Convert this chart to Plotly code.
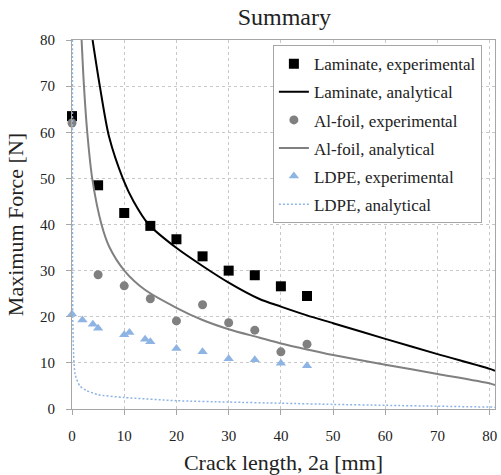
import plotly.graph_objects as go

# ---- data ----
lam_exp_x = [0, 5, 10, 15, 20, 25, 30, 35, 40, 45]
lam_exp_y = [63.5, 48.5, 42.5, 39.7, 36.8, 33.1, 30.0, 29.0, 26.6, 24.5]

al_exp_x = [0, 5, 10, 15, 20, 25, 30, 35, 40, 45]
al_exp_y = [62.0, 29.1, 26.7, 23.9, 19.1, 22.6, 18.7, 17.1, 12.4, 14.05]

ldpe_exp_x = [0, 2, 4, 5, 10, 11, 14, 15, 20, 25, 30, 35, 40, 45]
ldpe_exp_y = [20.6, 19.3, 18.4, 17.5, 16.1, 16.6, 15.1, 14.6, 13.1, 12.4, 10.9, 10.7, 9.9, 9.4]

lam_ana_x = [3.94, 5.33, 7.1, 9.8, 11.8, 14.7, 19.9, 25.0, 30.0, 35.8, 40, 45, 50, 60, 70, 80, 81]
lam_ana_y = [80, 70, 59, 49.8, 45.0, 40, 35.0, 31.0, 27.4, 23.9, 22.2, 20.3, 18.6, 15.2, 11.9, 8.7, 8.3]

al_ana_x = [1.84, 2.29, 2.92, 3.87, 5.65, 7.2, 10.1, 13.9, 19.9, 25, 30, 35.8, 40, 45, 50, 60, 70, 80, 81]
al_ana_y = [80, 70, 60, 50, 40, 35, 29.9, 25.9, 22.0, 19.3, 17.3, 15.5, 14.2, 12.9, 11.7, 9.6, 7.6, 5.55, 5.2]

ldpe_ana_x = [0.08, 0.1, 0.15, 0.3, 0.6, 1.5, 2.8, 5, 10, 20, 30, 40, 50, 60, 70, 81]
ldpe_ana_y = [80, 35, 20, 12, 7.5, 5.0, 4.0, 3.1, 2.5, 1.8, 1.5, 1.25, 1.0, 0.8, 0.6, 0.4]

x_ticks = [0, 10, 20, 30, 40, 50, 60, 70, 80]
y_ticks = [0, 10, 20, 30, 40, 50, 60, 70, 80]

FONT = "Liberation Serif, 'Times New Roman', DejaVu Serif, serif"
BLUE = "#8db4e2"
GREY = "#808080"
TXT = "#222222"

fig = go.Figure()
fig.add_trace(go.Scatter(x=lam_exp_x, y=lam_exp_y, mode="markers", name="Laminate, experimental",
                         legendgroup="a",
                         marker=dict(symbol="square", size=10, color="black"), cliponaxis=False))
fig.add_trace(go.Scatter(x=lam_ana_x, y=lam_ana_y, mode="lines", name="Laminate, analytical",
                         legendgroup="b",
                         line=dict(color="black", width=2, shape="spline", smoothing=0.8)))
fig.add_trace(go.Scatter(x=al_exp_x, y=al_exp_y, mode="markers", name="Al-foil, experimental",
                         legendgroup="c",
                         marker=dict(symbol="circle", size=9, color=GREY), cliponaxis=False))
fig.add_trace(go.Scatter(x=al_ana_x, y=al_ana_y, mode="lines", name="Al-foil, analytical",
                         legendgroup="d",
                         line=dict(color=GREY, width=2, shape="spline", smoothing=0.8)))
fig.add_trace(go.Scatter(x=ldpe_exp_x, y=ldpe_exp_y, mode="markers", name="LDPE, experimental",
                         legendgroup="e",
                         marker=dict(symbol="triangle-up", size=9, color=BLUE), cliponaxis=False))
fig.add_trace(go.Scatter(x=ldpe_ana_x, y=ldpe_ana_y, mode="lines", name="LDPE, analytical",
                         legendgroup="f",
                         line=dict(color=BLUE, width=1.5, dash="2px,2px", shape="spline", smoothing=0.6)))

axis_common = dict(
    showline=True, linecolor="#a6a6a6", linewidth=1, mirror=True,
    showgrid=True, gridcolor="#c8c8c8", griddash="dot", gridwidth=1,
    zeroline=False, ticks="outside", ticklen=5, tickcolor="#a6a6a6",
    tickfont=dict(family=FONT, size=15, color=TXT),
    ticklabelstandoff=8,
)

fig.update_layout(
    width=501, height=475,
    margin=dict(l=72, r=4, t=40, b=65),
    paper_bgcolor="white", plot_bgcolor="white",
    font=dict(family=FONT, color=TXT),
    title=dict(text="Summary", x=0.5675, xanchor="center", y=0.965, yanchor="middle",
               font=dict(family=FONT, size=24, color=TXT)),
    xaxis=dict(range=[0, 81], tickvals=x_ticks,
               title=dict(text="Crack length, 2a [mm]", font=dict(family=FONT, size=22, color=TXT), standoff=12),
               **axis_common),
    yaxis=dict(range=[0, 80], tickvals=y_ticks,
               title=dict(text="Maximum Force [N]", font=dict(family=FONT, size=22, color=TXT), standoff=10),
               **axis_common),
    legend=dict(x=0.969, y=0.986, xanchor="right", yanchor="top",
                bgcolor="white", bordercolor="#a6a6a6", borderwidth=1,
                tracegroupgap=3,
                font=dict(family=FONT, size=17, color=TXT)),
    showlegend=True,
)

fig.write_html("out.html",
               config={"displayModeBar": False},
               post_script="document.body.style.margin='0';document.body.style.padding='0';")
